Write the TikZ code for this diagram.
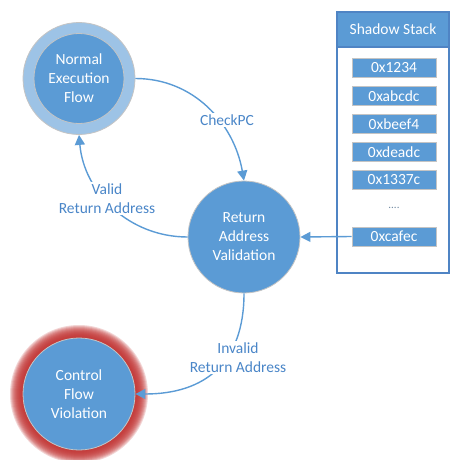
\documentclass[tikz,border=0pt]{standalone}
\usepackage{fontspec}
\setmainfont{Carlito}
\usetikzlibrary{arrows.meta}
\definecolor{mblue}{HTML}{5B9BD5}
\definecolor{lblue}{HTML}{9DC3E6}
\definecolor{dblue}{HTML}{4F84C4}
\definecolor{gborder}{HTML}{C4C4C4}
\definecolor{txtblue}{HTML}{4A86C8}
\definecolor{glowred}{HTML}{C0302F}
\begin{document}
\begin{tikzpicture}[x=1pt,y=-1pt,
  nodetext/.style={text=white, font=\fontsize{15.5}{19}\selectfont, align=center},
  bigcircle/.style={circle, fill=mblue, draw=gborder, line width=0.8pt, minimum size=112pt, inner sep=0pt, nodetext},
  conn/.style={draw=mblue, line width=1.4pt, -{Triangle[length=10pt,width=10pt]}},
  lbl/.style={text=txtblue, fill=white, font=\fontsize{15.5}{19}\selectfont, align=center, inner sep=2pt},
  item/.style={rectangle, fill=mblue, draw=gborder, line width=1pt, minimum width=84pt, minimum height=19pt, inner sep=0pt, text=white, font=\fontsize{15.5}{17}\selectfont}
]
\useasboundingbox (0,0) rectangle (450,460);

% glow behind control flow violation
\coordinate (cfvc) at (79,394);
\foreach \r in {57,58,...,69} {
  \fill[glowred, opacity=0.2] (cfvc) circle (\r pt);
}

% Normal execution flow (ring)
\node[circle, fill=lblue, draw=gborder, line width=0.8pt, minimum size=112pt, inner sep=0pt] (nef) at (79,78.5) {};
\node[circle, fill=mblue, draw=gborder, line width=0.8pt, minimum size=90pt, inner sep=0pt, nodetext] (nefin) at (nef.center) {Normal\\Execution\\Flow};

% Return address validation
\node[bigcircle] (rav) at (244,237) {Return\\Address\\Validation};

% Control flow violation
\node[bigcircle] (cfv) at (cfvc) {Control\\Flow\\Violation};

% Shadow stack
\node[rectangle, draw=dblue, line width=1.2pt, fill=white, minimum width=112pt, minimum height=261pt, inner sep=0pt] (stack) at (393,142.5) {};
\node[rectangle, draw=dblue, fill=mblue, line width=1.2pt, minimum width=112pt, minimum height=35pt, inner sep=0pt, text=white, font=\fontsize{15.5}{17}\selectfont] (hdr) at (393,29.5) {Shadow Stack};
\node[item] (s1) at (394,68) {0x1234};
\node[item] (s2) at (394,96) {0xabcdc};
\node[item] (s3) at (394,124) {0xbeef4};
\node[item] (s4) at (394,152) {0xdeadc};
\node[item] (s5) at (394,180) {0x1337c};
\node[text=gray!60!mblue, font=\fontsize{11}{12}\selectfont] (dots) at (394,208) {....};
\node[item] (s6) at (394,236.5) {0xcafec};

% connectors
\draw[conn] (s6.west) -- (rav.east);
\draw[conn] (nef.east) to[out=0, in=100] (rav.north);
\draw[conn] (rav.west) to[out=180, in=-85] (nef.south);
\draw[conn] (rav.south) to[out=-90, in=0, looseness=1.2] (cfv.east);

% labels
\node[lbl] (lcheck) at (227,120) {CheckPC};
\node[lbl] (lvalid) at (107,198.5) {Valid\\Return Address};
\node[lbl] (linvalid) at (238,357.5) {Invalid\\Return Address};
\end{tikzpicture}
\end{document}
